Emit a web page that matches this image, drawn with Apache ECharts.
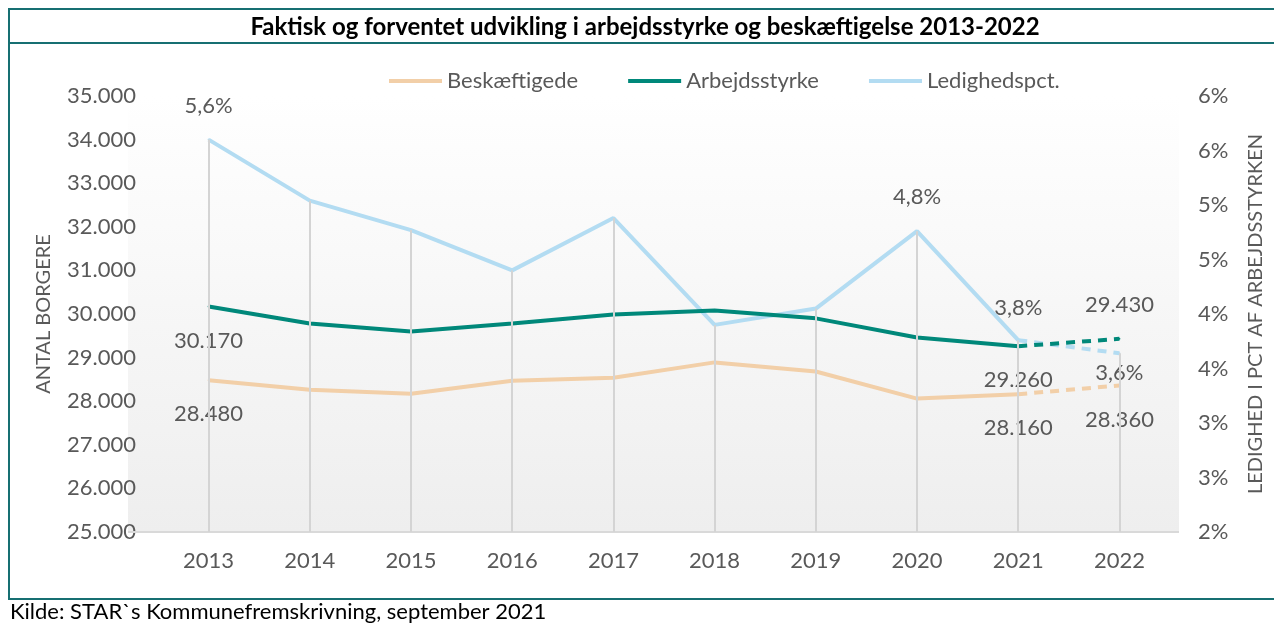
<!DOCTYPE html>
<html>
<head>
<meta charset="utf-8">
<script src="https://cdn.jsdelivr.net/npm/echarts@6/dist/echarts.min.js"></script>
<style>
  html, body { margin: 0; padding: 0; background: #fff; }
  #chart { width: 1274px; height: 625px; }
</style>
</head>
<body>
<div id="chart"></div>
<script>
// data
const years = ['2013', '2014', '2015', '2016', '2017', '2018', '2019', '2020', '2021', '2022']
const beskaeftigede = [28480, 28260, 28170, 28470, 28540, 28890, 28680, 28060, 28160, 28360]
const arbejdsstyrke = [30170, 29780, 29600, 29780, 29990, 30080, 29900, 29460, 29260, 29430]
const ledighed = [5.6, 5.04, 4.77, 4.4, 4.88, 3.9, 4.05, 4.76, 3.76, 3.64]
// which points carry a label: [position, distance]
const beskLabels = { 0: ['bottom', 22], 8: ['bottom', 22], 9: ['bottom', 22] }
const arbLabels = { 0: ['bottom', 22], 8: ['bottom', 22], 9: ['top', 22] }
const ledLabels = { 0: ['top', 22], 7: ['top', 22], 8: ['top', 20], 9: ['bottom', 8] }

const fontFamily = 'Lato, "Open Sans", sans-serif'
const textColor = '#595959'
const frameColor = '#176f72'
const last = years.length - 1 // first forecast year

function fmtThousand(v) {
  return String(Math.round(v)).replace(/\B(?=(\d{3})+(?!\d))/g, '.')
}
function fmtPct(v) {
  return v.toFixed(1).replace('.', ',') + '%'
}

// solid part = actual years, dashed part = forecast (last two points)
function buildData(values, labels, fmt, dashed) {
  return values.map((v, i) => {
    const inPart = dashed ? i >= last - 1 : i <= last - 1
    if (!inPart) return null
    const lab = labels[i]
    const showHere = !!lab && (dashed ? i === last : true)
    return {
      value: v,
      label: {
        show: showHere,
        position: lab ? lab[0] : 'top',
        distance: lab ? lab[1] : 5,
        formatter: fmt(v),
        color: textColor,
        fontSize: 22,
        fontFamily: fontFamily
      }
    }
  })
}

function lineSeries(name, values, labels, fmt, color, yIndex, dashed) {
  return {
    name: name,
    type: 'line',
    yAxisIndex: yIndex,
    symbol: 'circle',
    symbolSize: 2,
    showSymbol: true,
    showAllSymbol: true,
    z: name === 'Ledighedspct.' ? 2 : 3,
    data: buildData(values, labels, fmt, dashed),
    lineStyle: { color: color, width: 4, type: dashed ? [9, 7] : 'solid' },
    itemStyle: { color: color, borderWidth: 0 },
    animation: false
  }
}

const myChart = echarts.init(document.getElementById('chart'))

const colors = { 'Beskæftigede': '#f2cfa8', 'Arbejdsstyrke': '#00887a', 'Ledighedspct.': '#b3dcf2' }

const series = [
  lineSeries('Beskæftigede', beskaeftigede, beskLabels, fmtThousand, colors['Beskæftigede'], 0, false),
  lineSeries('Arbejdsstyrke', arbejdsstyrke, arbLabels, fmtThousand, colors['Arbejdsstyrke'], 0, false),
  lineSeries('Ledighedspct.', ledighed, ledLabels, fmtPct, colors['Ledighedspct.'], 1, false),
  lineSeries('Beskæftigede', beskaeftigede, beskLabels, fmtThousand, colors['Beskæftigede'], 0, true),
  lineSeries('Arbejdsstyrke', arbejdsstyrke, arbLabels, fmtThousand, colors['Arbejdsstyrke'], 0, true),
  lineSeries('Ledighedspct.', ledighed, ledLabels, fmtPct, colors['Ledighedspct.'], 1, true)
]

// drop lines from the unemployment points down to the axis
series[2].markLine = {
  silent: true,
  symbol: ['none', 'none'],
  label: { show: false },
  lineStyle: { color: '#d4d4d4', width: 2, type: 'solid' },
  data: ledighed.map((v, i) => [
    { xAxis: i, yAxis: v },
    { xAxis: i, yAxis: 2 }
  ])
}

const option = {
  backgroundColor: '#ffffff',
  animation: false,
  textStyle: { fontFamily: fontFamily },
  graphic: [
    {
      type: 'rect', z: -10, silent: true,
      shape: { x: 128, y: 96, width: 1051, height: 436 },
      style: {
        fill: new echarts.graphic.LinearGradient(0, 0, 0, 1, [
          { offset: 0, color: '#ffffff' },
          { offset: 1, color: '#eeeeee' }
        ])
      }
    },
    {
      type: 'line', z: 5, silent: true,
      shape: { x1: 128, y1: 532, x2: 1179, y2: 532 },
      style: { stroke: '#d9d9d9', lineWidth: 2 }
    },
    {
      type: 'rect', z: 10, silent: true,
      shape: { x: 9, y: 9, width: 1300, height: 590 },
      style: { fill: null, stroke: frameColor, lineWidth: 2 }
    },
    {
      type: 'line', z: 10, silent: true,
      shape: { x1: 9, y1: 43, x2: 1274, y2: 43 },
      style: { stroke: frameColor, lineWidth: 2 }
    },
    {
      type: 'text', z: 10, silent: true,
      x: 645, y: 27,
      style: {
        text: 'Faktisk og forventet udvikling i arbejdsstyrke og beskæftigelse 2013-2022',
        fontFamily: fontFamily, fontSize: 24, fontWeight: 'bold', fill: '#000',
        align: 'center', verticalAlign: 'middle'
      }
    },
    {
      type: 'text', z: 10, silent: true,
      x: 10, y: 612,
      style: {
        text: 'Kilde: STAR`s Kommunefremskrivning, september 2021',
        fontFamily: fontFamily, fontSize: 22, fill: '#000',
        align: 'left', verticalAlign: 'middle'
      }
    }
  ],
  legend: {
    data: Object.keys(colors).map(n => ({ name: n, icon: 'rect', itemStyle: { color: colors[n], opacity: 1 } })),
    left: 384,
    top: 65,
    itemWidth: 53,
    itemHeight: 4,
    itemGap: 50,
    textStyle: { color: textColor, fontSize: 22, fontFamily: fontFamily }
  },
  grid: { left: 158, right: 95, top: 96, bottom: 93 },
  xAxis: {
    type: 'category',
    data: years,
    boundaryGap: true,
    axisLine: { show: false },
    axisTick: { show: false },
    axisLabel: { color: textColor, fontSize: 22, margin: 18, fontFamily: fontFamily }
  },
  yAxis: [
    {
      type: 'value',
      min: 25000, max: 35000, interval: 1000,
      name: 'ANTAL BORGERE',
      nameLocation: 'middle',
      nameRotate: 90,
      nameGap: 104,
      nameTextStyle: { color: textColor, fontSize: 20, fontFamily: fontFamily },
      splitLine: { show: false },
      axisLine: { show: false },
      axisTick: { show: false },
      axisLabel: { color: textColor, fontSize: 22, margin: 22, formatter: fmtThousand, fontFamily: fontFamily }
    },
    {
      type: 'value',
      min: 2, max: 6, interval: 0.5,
      name: 'LEDIGHED I PCT AF ARBEJDSSTYRKEN',
      nameLocation: 'middle',
      nameRotate: 90,
      nameGap: 76,
      nameTextStyle: { color: textColor, fontSize: 20, fontFamily: fontFamily },
      splitLine: { show: false },
      axisLine: { show: false },
      axisTick: { show: false },
      axisLabel: { color: textColor, fontSize: 22, margin: 28, formatter: v => Math.round(v) + '%', fontFamily: fontFamily }
    }
  ],
  series: series
}

myChart.setOption(option)
</script>
</body>
</html>
